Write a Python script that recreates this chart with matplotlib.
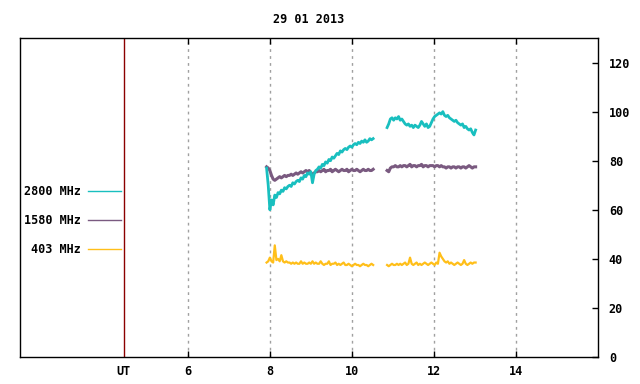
import numpy as np
import matplotlib
matplotlib.use('Agg')
import matplotlib.pyplot as plt

# sample times (UT hours), two pieces with a gap between
t1 = np.arange(7.92, 10.53, 0.04)
t2 = np.arange(10.86, 13.03, 0.04)

f2800_a = [77, 70, 60, 64, 62, 66, 65, 67, 66.5, 68, 67.5, 69, 68.5, 69.5, 70, 69.5,
           71, 70.5, 71.5, 72, 71.5, 73, 72.5, 74, 73.5, 75, 74.5, 75.5, 71, 74.5,
           76, 76.5, 77.5, 77, 78.5, 78, 79.5, 79, 80.5, 80, 81.5, 81, 82, 83, 82.5,
           84, 83.5, 84.5, 85, 84.5, 85.5, 86, 85.5, 86.5, 87, 86.5, 87.5, 87, 88,
           87.5, 88.5, 87.5, 88, 89, 88.5, 89]
f2800_b = [93.5, 95, 97, 97.5, 96.5, 97.5, 97, 98, 96.5, 97, 96, 95, 94.5, 95, 94,
           94.5, 93.5, 94.5, 94, 93.5, 94.5, 96, 95, 94, 95, 93.5, 94, 95.5, 97, 98,
           98.5, 99, 99.5, 99, 100, 98.5, 98, 98.5, 97.5, 97, 96.5, 96, 96.5, 95.5,
           95, 94.5, 95, 93.5, 94, 93, 92.5, 93, 91.5, 90.5, 92.5]

f1580_a = [77.5, 77, 76, 74, 72.5, 72, 72.5, 73, 73.5, 73, 73.5, 74, 73.5, 74, 74,
           74.5, 74, 74.5, 75, 74.5, 75, 75.5, 75, 75.5, 76, 75.5, 76, 75, 74.5, 75,
           75.5, 75.5, 76, 75.5, 76, 76.5, 75.5, 76, 76, 76.5, 75.5, 76, 76.5, 76,
           75.5, 76, 76.5, 76, 76, 76.5, 75.5, 76, 76.5, 76, 76, 76.5, 76, 75.5, 76,
           76.5, 76, 76, 76.5, 76, 76, 76.5]
f1580_b = [76, 75.5, 77, 77.5, 77.5, 78, 77.5, 77.5, 78, 77.5, 78, 78, 77.5, 78,
           78.5, 77.5, 78, 78, 77.5, 78, 78, 78.5, 77.5, 78, 78, 77.5, 78, 78, 78,
           77.5, 78, 78, 77.5, 78, 77.5, 77.5, 77, 77.5, 77.5, 77, 77.5, 77.5, 77,
           77.5, 77.5, 77, 77.5, 77.5, 77, 77.5, 78, 77.5, 77, 77.5, 77.5]

f403_a = [38.5, 39, 40.5, 39, 38.5, 45.5, 39.5, 40, 39, 41.5, 39, 38.5, 39, 38.5,
          38.5, 38, 38.5, 38, 38.5, 38, 38, 39, 38, 38.5, 38, 38, 38.5, 38, 39, 38,
          38.5, 38, 38, 39, 38, 37.5, 38, 38, 39, 37.5, 38, 38, 38.5, 37.5, 38, 37.5,
          38, 38.5, 37.5, 37.5, 38, 37.5, 37, 37.5, 38, 37.5, 37.5, 37, 37.5, 38,
          37.5, 37.5, 37, 37.5, 38, 37.5]
f403_b = [37.5, 37, 37.5, 38, 37.5, 37.5, 38, 37.5, 38, 37.5, 38, 38.5, 37.5, 38, 40.5,
          38, 37.5, 38, 38.5, 37.5, 38, 37.5, 38, 38.5, 38, 37.5, 38, 38.5, 38, 37.5,
          38.5, 38, 42.5, 41, 40, 39, 38.5, 39, 38, 38.5, 38, 37.5, 38, 38.5, 38,
          37.5, 38, 39.5, 38, 37.5, 38, 38.5, 38, 38.5, 38.5]

labels = ['2800 MHz', '1580 MHz', '403 MHz']
colors = ['#19bfbf', '#7a5a80', '#ffbf1a']

ut_pos = 4.44
xticks = [6, 8, 10, 12, 14]

def join(a, b):
    t = np.concatenate([t1[:len(a)], [np.nan], t2[:len(b)]])
    v = np.concatenate([a, [np.nan], b])
    return t, v

plt.rcParams['font.family'] = 'DejaVu Sans Mono'
plt.rcParams['font.weight'] = 'bold'
plt.rcParams['font.size'] = 8.5

fig = plt.figure(figsize=(6.4, 3.84), dpi=100)
ax = fig.add_axes([0.031, 0.0703, 0.903, 0.8307])

for x in xticks:
    ax.axvline(x, color='#a0a0a0', lw=1, ls=(0, (2, 3)), zorder=1)
ax.axvline(ut_pos, color='#8b0000', lw=1, zorder=1)

t, v = join(f403_a, f403_b)
h3, = ax.plot(t, v, color=colors[2], lw=1.6, label=labels[2])
t, v = join(f1580_a, f1580_b)
h2, = ax.plot(t, v, color=colors[1], lw=2.2, label=labels[1])
t, v = join(f2800_a, f2800_b)
h1, = ax.plot(t, v, color=colors[0], lw=2.0, label=labels[0])

ax.set_xlim(1.9, 16)
ax.set_ylim(0, 130)
ax.set_xticks([ut_pos] + xticks)
ax.set_xticklabels(['UT'] + [str(x) for x in xticks])
ax.set_yticks(range(0, 121, 20))
ax.yaxis.tick_right()
ax.tick_params(axis='y', direction='in', length=4, width=1, pad=8, right=True, left=False)
ax.tick_params(axis='x', direction='in', length=4, width=1, pad=6, top=True)
ax.xaxis.get_major_ticks()[0].tick1line.set_visible(False)
ax.xaxis.get_major_ticks()[0].tick2line.set_visible(False)
for s in ax.spines.values():
    s.set_linewidth(1)

ax.set_title('29 01 2013', fontsize=8.5, fontweight='bold', pad=11)

leg = ax.legend(handles=[h1, h2, h3], loc='center right', bbox_to_anchor=(0.175, 0.428),
                frameon=False, markerfirst=False, handlelength=2.8, handletextpad=0.6,
                labelspacing=1.38, borderpad=0, borderaxespad=0)
for ln in leg.get_lines():
    ln.set_linewidth(1)

plt.savefig('out.png', dpi=100)
